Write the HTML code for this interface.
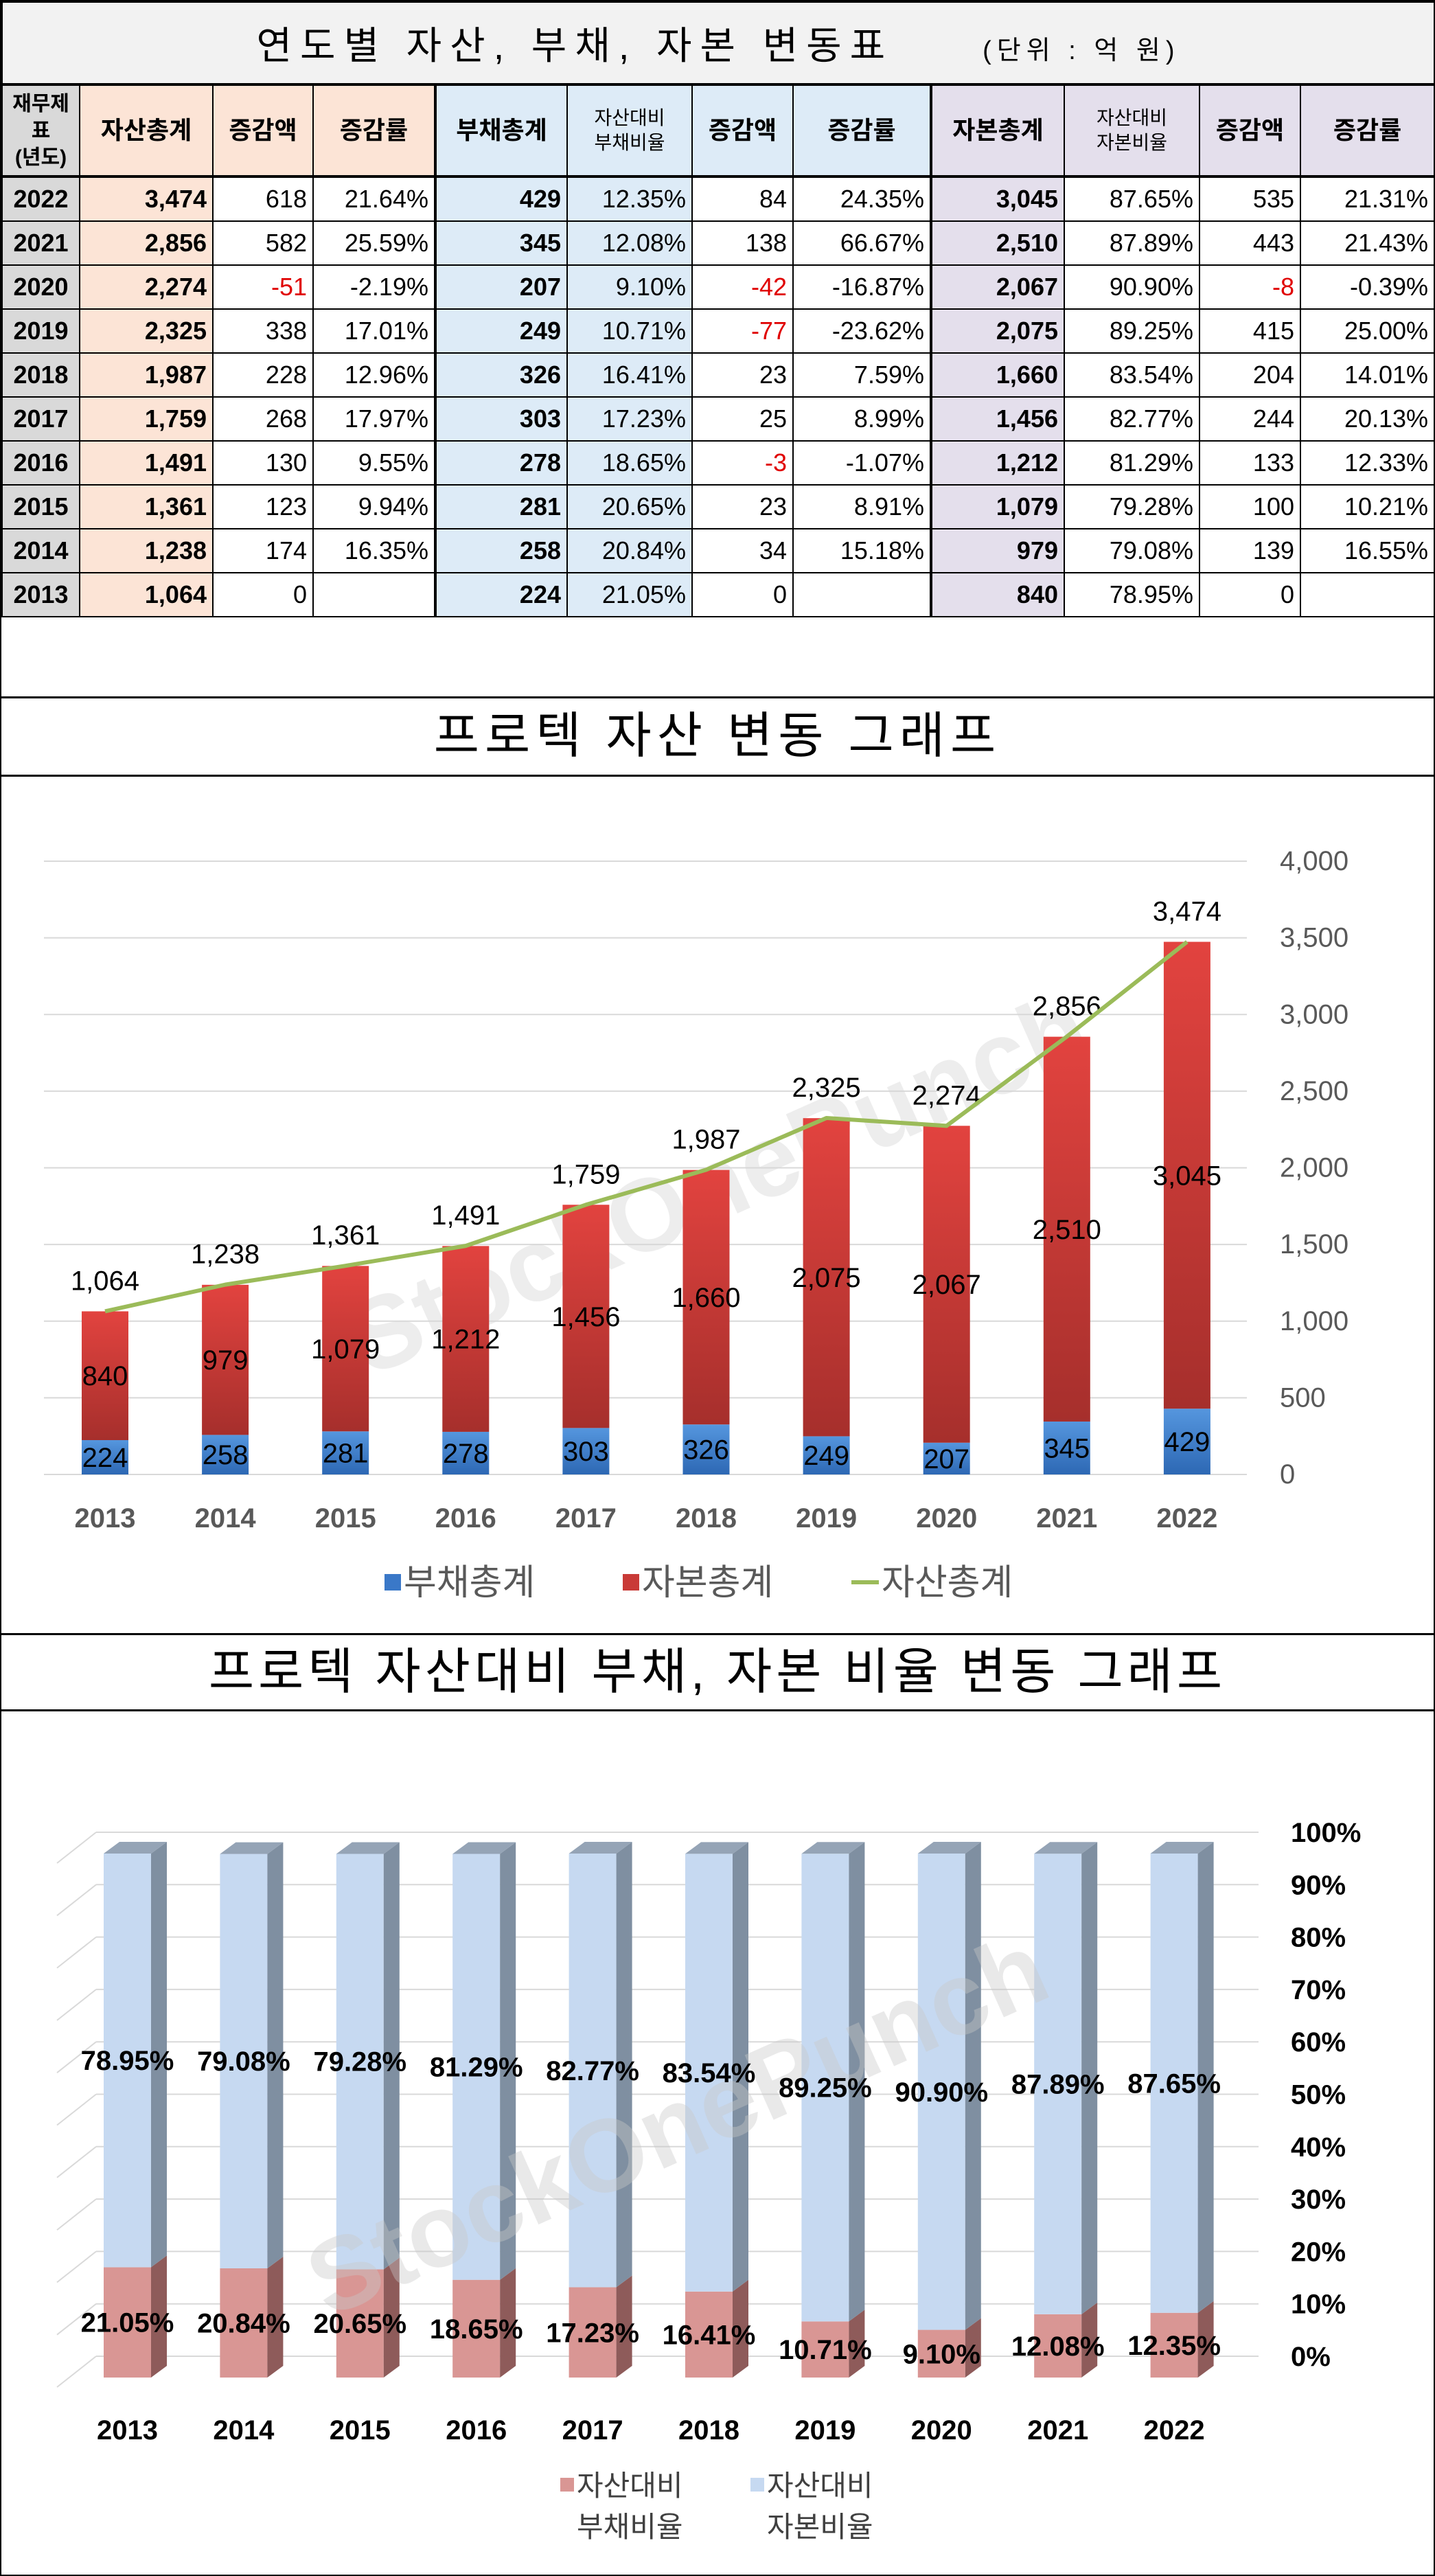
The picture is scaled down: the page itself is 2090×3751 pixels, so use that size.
<!DOCTYPE html>
<html><head><meta charset="utf-8">
<style>
html,body{margin:0;padding:0;background:#fff;}
body{width:2090px;height:3751px;position:relative;overflow:hidden;font-family:"Liberation Sans Narrow","Liberation Sans","Noto Sans CJK KR",sans-serif;}
.frame{position:absolute;left:0;top:0;width:2086px;height:3747px;border:2px solid #000;}
table{position:absolute;left:2px;top:2px;border-collapse:collapse;table-layout:fixed;width:2086px;}
td{border:2px solid #000;padding:0 8px;font-size:36px;text-align:right;white-space:nowrap;overflow:hidden;}
tr.title td{height:117px;background:#f2f2f2;text-align:center;font-size:56px;font-family:"Liberation Sans","Noto Sans CJK KR",sans-serif;border-bottom:4px solid #000;}
tr.hdr td{height:130px;text-align:center;font-weight:bold;font-size:36px;font-family:"Liberation Sans","Noto Sans CJK KR",sans-serif;border-bottom:4px solid #000;line-height:1.3;padding:0 2px;}
tr.hdr td.sm{font-size:28px;font-weight:normal;}
tr.row td{height:62px;}
.yr{background:#d9d9d9;text-align:center;font-weight:bold;padding:0;}
.pa{background:#fce4d6;}.bl{background:#ddebf7;}.pu{background:#e4dfec;}
.b{font-weight:bold;}.neg{color:#e00000;}
.g{border-left:4px solid #000;}
.sec{position:absolute;left:2px;width:2086px;border-top:3px solid #000;border-bottom:3px solid #000;text-align:center;font-family:"Liberation Sans","Noto Sans CJK KR",sans-serif;font-size:72px;box-sizing:border-box;}
svg{position:absolute;left:0;top:0;}
</style></head><body>
<div class="frame"></div>
<table>
<colgroup><col style="width:113px"><col style="width:194px"><col style="width:146px"><col style="width:178px"><col style="width:192px"><col style="width:182px"><col style="width:147px"><col style="width:201px"><col style="width:194px"><col style="width:197px"><col style="width:147px"><col style="width:195px"></colgroup>
<tr class="title"><td colspan="12"><span style="letter-spacing:12px">연도별 자산, 부채, 자본 변동표</span><span style="font-size:38px;margin-left:130px;letter-spacing:8px">(단위 : 억 원)</span></td></tr>
<tr class="hdr">
<td class="yr" style="font-size:30px">재무제<br>표<br>(년도)</td>
<td class="pa">자산총계</td>
<td class="pa">증감액</td>
<td class="pa">증감률</td>
<td class="bl g">부채총계</td>
<td class="bl sm">자산대비<br>부채비율</td>
<td class="bl">증감액</td>
<td class="bl">증감률</td>
<td class="pu g">자본총계</td>
<td class="pu sm">자산대비<br>자본비율</td>
<td class="pu">증감액</td>
<td class="pu">증감률</td>
</tr>
<tbody id="tb"></tbody>
</table>
<div class="sec" style="top:1014px;height:117px;line-height:111px;letter-spacing:8px">프로텍 자산 변동 그래프</div>
<div class="sec" style="top:2378px;height:114px;line-height:108px;letter-spacing:6px">프로텍 자산대비 부채, 자본 비율 변동 그래프</div>
<svg id="sv" width="2090" height="3751" xmlns="http://www.w3.org/2000/svg">
<defs>
<linearGradient id="gr" x1="0" y1="0" x2="0" y2="1"><stop offset="0" stop-color="#e2433f"/><stop offset="1" stop-color="#a62f2c"/></linearGradient>
<linearGradient id="gb" x1="0" y1="0" x2="0" y2="1"><stop offset="0" stop-color="#5596de"/><stop offset="1" stop-color="#2d68b4"/></linearGradient>
</defs>
</svg>
<script>
const years=[2013,2014,2015,2016,2017,2018,2019,2020,2021,2022];
const assets=[1064,1238,1361,1491,1759,1987,2325,2274,2856,3474];
const debt=[224,258,281,278,303,326,249,207,345,429];
const equity=[840,979,1079,1212,1456,1660,2075,2067,2510,3045];
const assetChg=['0','174','123','130','268','228','338','-51','582','618'];
const assetRate=['','16.35%','9.94%','9.55%','17.97%','12.96%','17.01%','-2.19%','25.59%','21.64%'];
const debtChg=['0','34','23','-3','25','23','-77','-42','138','84'];
const debtRate=['','15.18%','8.91%','-1.07%','8.99%','7.59%','-23.62%','-16.87%','66.67%','24.35%'];
const equityChg=['0','139','100','133','244','204','415','-8','443','535'];
const equityRate=['','16.55%','10.21%','12.33%','20.13%','14.01%','25.00%','-0.39%','21.43%','21.31%'];
const debtRatio=[21.05,20.84,20.65,18.65,17.23,16.41,10.71,9.10,12.08,12.35];
const equityRatio=[78.95,79.08,79.28,81.29,82.77,83.54,89.25,90.90,87.89,87.65];
const yTicks=[0,500,1000,1500,2000,2500,3000,3500,4000];
const pctTicks=[0,10,20,30,40,50,60,70,80,90,100];

const fmt=v=>v.toLocaleString('en-US');
const tb=document.getElementById('tb');
for(let k=years.length-1;k>=0;k--){
  const tr=document.createElement('tr');
  tr.className='row';
  
  
  const cells=[
    ['yr',years[k]],['pa b',fmt(assets[k])],['',assetChg[k]],['',assetRate[k]],
    ['bl b g',fmt(debt[k])],['bl',debtRatio[k].toFixed(2)+'%'],['',debtChg[k]],['',debtRate[k]],
    ['pu b g',fmt(equity[k])],['',equityRatio[k].toFixed(2)+'%'],['',equityChg[k]],['',equityRate[k]]];
  cells.forEach((c,j)=>{
    const td=document.createElement('td');
    td.className=c[0]+((j==2||j==6||j==10)&&String(c[1]).startsWith('-')?' neg':'');
    td.textContent=c[1];
    
    
    tr.appendChild(td);
  });
  tb.appendChild(tr);
}

const NS='http://www.w3.org/2000/svg';
const sv=document.getElementById('sv');
function mk(tag,at,txt){const e=document.createElementNS(NS,tag);for(const k in at)e.setAttribute(k,at[k]);if(txt!=null)e.textContent=txt;sv.appendChild(e);return e;}
const KF='"Liberation Sans Narrow","Liberation Sans","Noto Sans CJK KR",sans-serif';

/* chart 1 */
const x1=i=>153+i*175.1;
const y1=v=>2147-v*(2147-1254)/4000;
yTicks.forEach(t=>{
  const l=mk('line',{x1:64,x2:1816,y1:y1(t),y2:y1(t),stroke:'#d9d9d9','stroke-width':2});
  
  
  const tx=mk('text',{x:1864,y:y1(t)+13,'font-size':40,fill:'#595959','font-family':KF},fmt(t));
  
  
});
const wm1=mk('text',{x:0,y:0,'font-size':150,'font-weight':'bold',fill:'#d8d8d8','fill-opacity':0.45,'text-anchor':'middle','font-family':'"Liberation Sans",sans-serif',transform:'translate(1067,1770) rotate(-24)'},'StockOnePunch');


years.forEach((yr,i)=>{
  const x=x1(i),w=68;
  const rb=mk('rect',{x:x-w/2,y:y1(debt[i]),width:w,height:y1(0)-y1(debt[i]),fill:'url(#gb)'});
  
  
  const rr=mk('rect',{x:x-w/2,y:y1(debt[i]+equity[i]),width:w,height:y1(debt[i])-y1(debt[i]+equity[i]),fill:'url(#gr)'});
  
  
  const t1=mk('text',{x:x,y:(y1(0)+y1(debt[i]))/2+14,'font-size':40,'text-anchor':'middle','font-family':KF},fmt(debt[i]));
  
  
  const t2=mk('text',{x:x,y:(y1(debt[i])+y1(debt[i]+equity[i]))/2+14,'font-size':40,'text-anchor':'middle','font-family':KF},fmt(equity[i]));
  
  
  const t3=mk('text',{x:x,y:y1(assets[i])-31,'font-size':40,'text-anchor':'middle','font-family':KF},fmt(assets[i]));
  
  
  const t4=mk('text',{x:x,y:2224,'font-size':40,'font-weight':'bold',fill:'#595959','text-anchor':'middle','font-family':KF},yr);
  
  
});
const pl=mk('polyline',{points:assets.map((v,i)=>x1(i)+','+y1(v)).join(' '),fill:'none',stroke:'#9bbb59','stroke-width':6,'stroke-linejoin':'round'});


const lg=[['#3a78c8','부채총계',560],['#c93a37','자본총계',907]];
lg.forEach(g=>{
  const r=mk('rect',{x:g[2],y:2292,width:24,height:24,fill:g[0]});
  
  
  const t=mk('text',{x:g[2]+28,y:2322,'font-size':52,fill:'#595959','font-family':KF},g[1]);
  
  
});
const ll=mk('line',{x1:1240,x2:1280,y1:2304,y2:2304,stroke:'#9bbb59','stroke-width':6});


const lt=mk('text',{x:1284,y:2322,'font-size':52,fill:'#595959','font-family':KF},'자산총계');



/* chart 2 */
const x2=i=>151+i*169.4;
const y2=p=>3462-p*7.63;
const BW=69,DX=23,DY=-17;
pctTicks.forEach(t=>{
  const gy=y2(t)-31;
  const g=mk('line',{x1:140,x2:1833,y1:gy,y2:gy,stroke:'#d9d9d9','stroke-width':2});
  
  
  const d=mk('line',{x1:83,x2:140,y1:gy+45,y2:gy,stroke:'#d9d9d9','stroke-width':2});
  
  
  const tx=mk('text',{x:1880,y:gy+14,'font-size':40,'font-weight':'bold','font-family':KF},t+'%');
  
  
});
function box(x,yt,yb,front,side,top,name){
  const f=mk('rect',{x:x,y:yt,width:BW,height:yb-yt,fill:front});
  
  
  const s=mk('polygon',{points:`${x+BW},${yt} ${x+BW+DX},${yt+DY} ${x+BW+DX},${yb+DY} ${x+BW},${yb}`,fill:side});
  
  
  if(top){const tp=mk('polygon',{points:`${x},${yt} ${x+DX},${yt+DY} ${x+BW+DX},${yt+DY} ${x+BW},${yt}`,fill:top});
  
  }
}
years.forEach((yr,i)=>{
  const x=x2(i);
  box(x,y2(debtRatio[i]),y2(0),'#d99694','#8e5b5a',null,'debt-ratio-bar-'+yr);
  box(x,y2(debtRatio[i]+equityRatio[i]),y2(debtRatio[i]),'#c6d9f1','#7f8fa1','#95a4b6','equity-ratio-bar-'+yr);
});
const wm2=mk('text',{x:0,y:0,'font-size':150,'font-weight':'bold',fill:'#c8c8c8','fill-opacity':0.4,'text-anchor':'middle','font-family':'"Liberation Sans",sans-serif',transform:'translate(1007,3140) rotate(-24)'},'StockOnePunch');


years.forEach((yr,i)=>{
  const cx=x2(i)+BW/2;
  const a=mk('text',{x:cx,y:(y2(0)+y2(debtRatio[i]))/2+14,'font-size':40,'font-weight':'bold','text-anchor':'middle','font-family':KF},debtRatio[i].toFixed(2)+'%');
  
  
  const b=mk('text',{x:cx,y:(y2(debtRatio[i])+y2(100))/2+14,'font-size':40,'font-weight':'bold','text-anchor':'middle','font-family':KF},equityRatio[i].toFixed(2)+'%');
  
  
  const c=mk('text',{x:cx,y:3552,'font-size':40,'font-weight':'bold','text-anchor':'middle','font-family':KF},yr);
  
  
});
[['#d99694',816,['자산대비','부채비율']],['#c6d9f1',1093,['자산대비','자본비율']]].forEach(g=>{
  const r=mk('rect',{x:g[1],y:3608,width:20,height:20,fill:g[0]});
  
  
  const t=mk('text',{x:g[1]+24,y:3634,'font-size':42,fill:'#404040','font-family':KF},g[2][0]);
  
  
  const t2=mk('text',{x:g[1]+24,y:3694,'font-size':42,fill:'#404040','font-family':KF},g[2][1]);
  
  
});
</script>
</body></html>
